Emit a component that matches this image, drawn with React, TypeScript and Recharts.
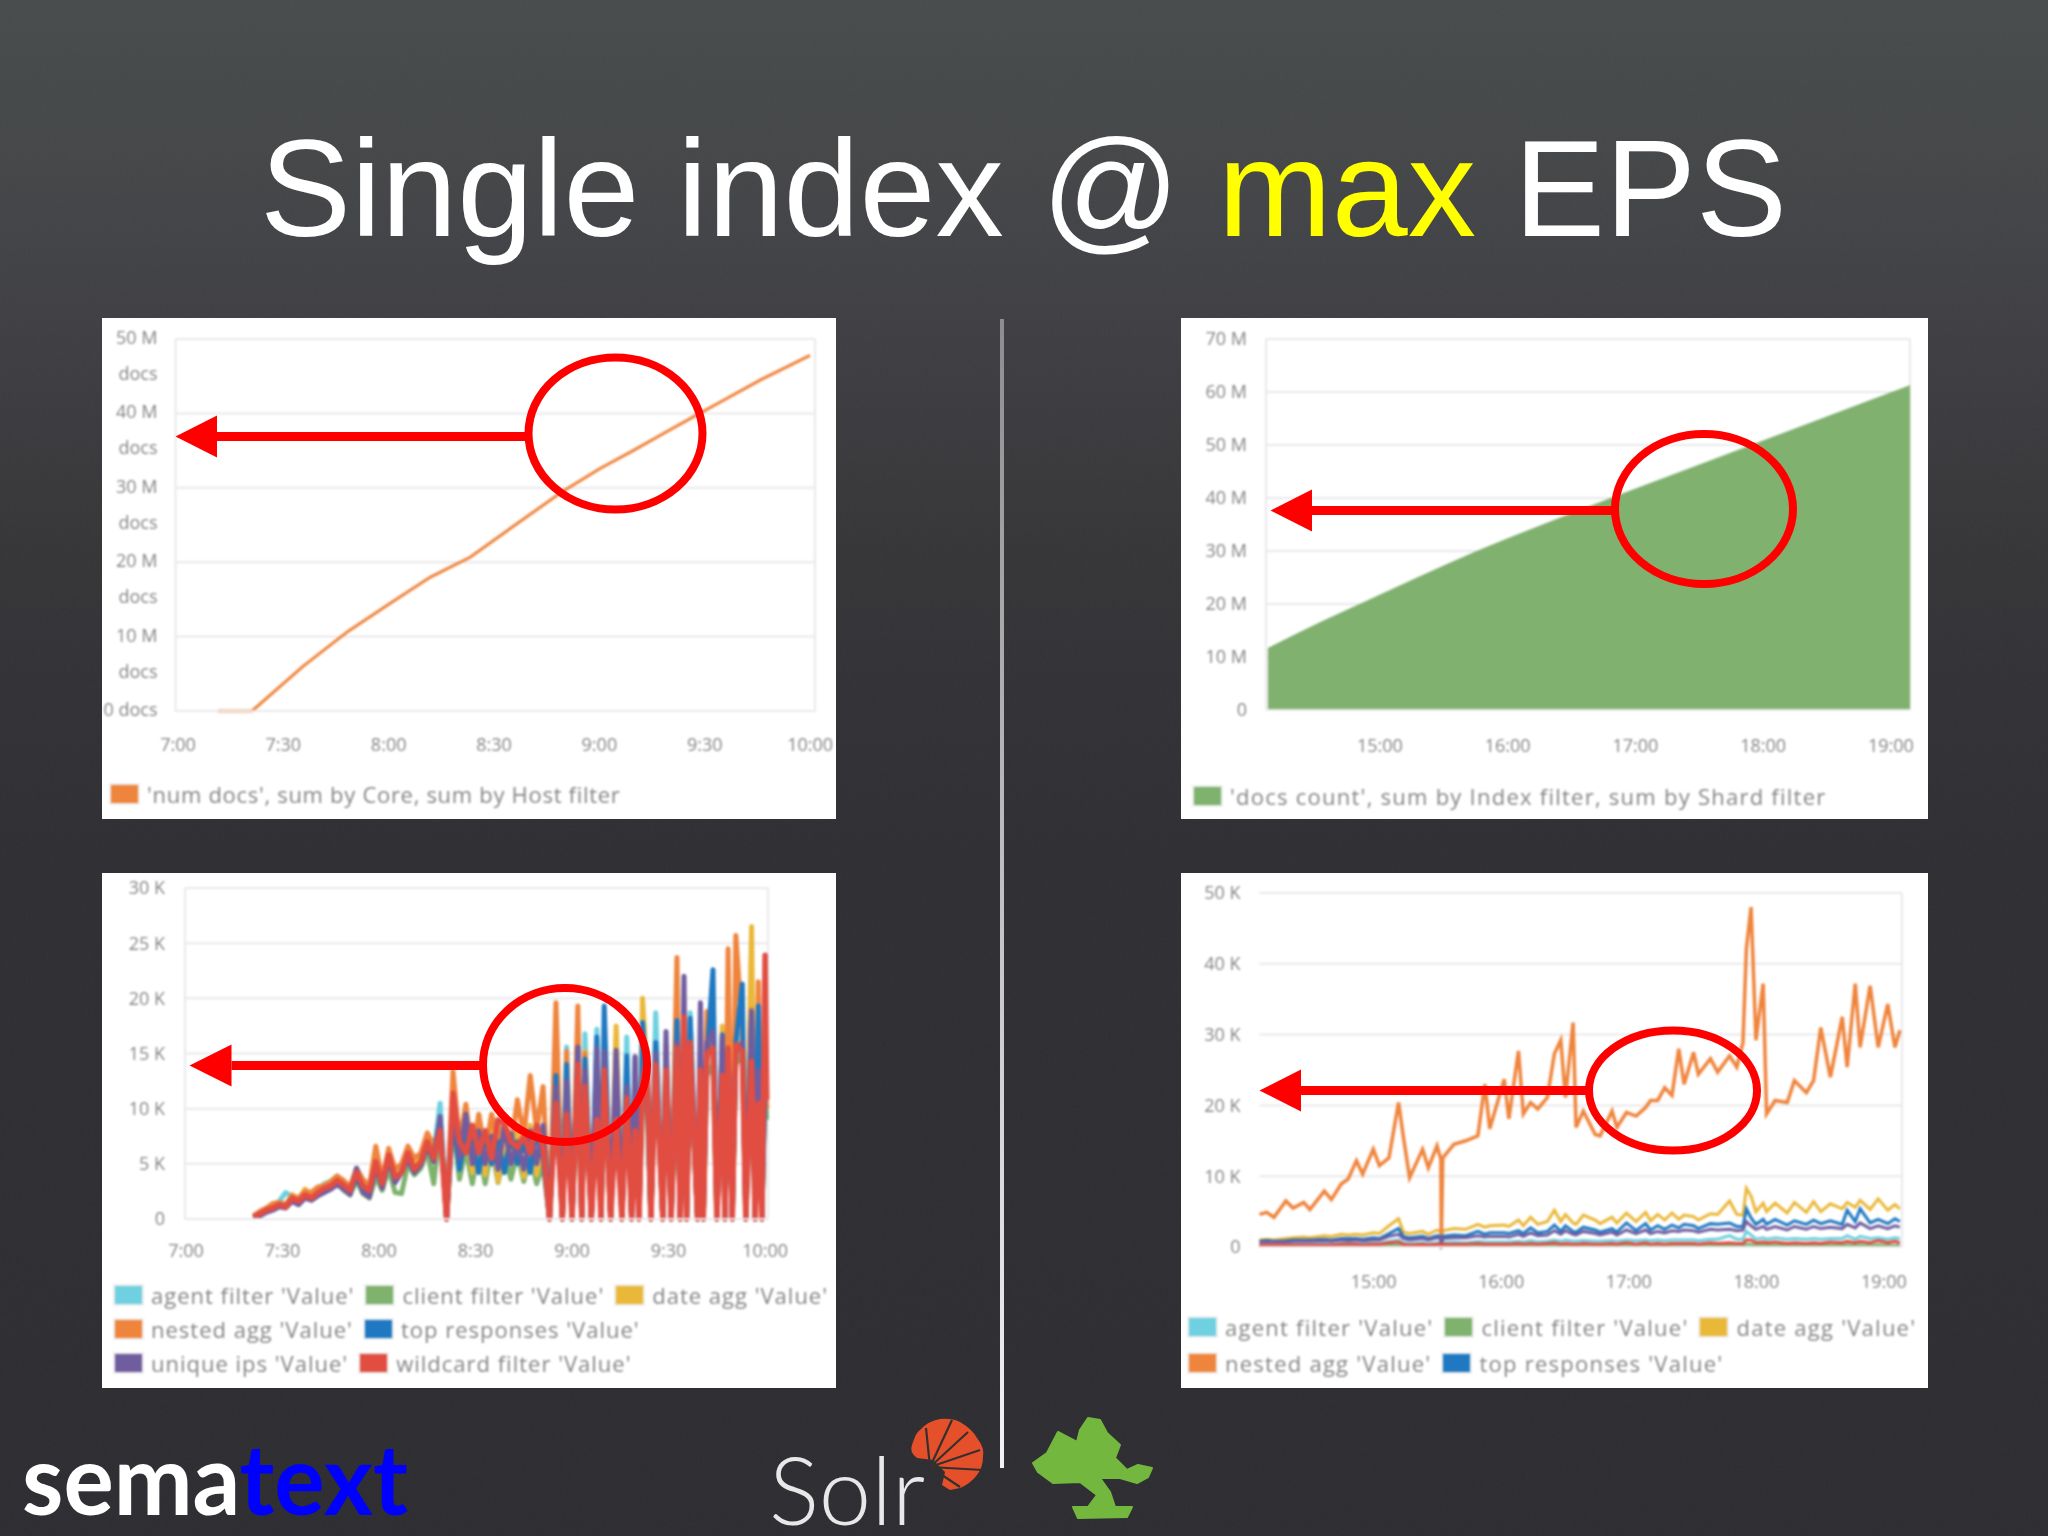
import { AreaChart, Area, LineChart, Line, XAxis, YAxis, CartesianGrid } from 'recharts'

// top left: num docs (M) against minutes since midnight
const docsTimes = [431.4, 441.1, 455.6, 468.4, 481.1, 491.9, 503.3, 516, 529.5, 540.2, 549.6, 559, 567, 575.1, 585.9, 600]
const docsValues = [0, 0, 6, 10.7, 14.7, 18, 20.7, 25, 29.5, 32.6, 35, 37.5, 39.6, 41.7, 44.5, 47.8]

// top right: docs count (M)
const countTimes = [847.4, 872, 891, 918, 946, 977, 1009, 1042, 1075, 1108, 1141, 1149]
const countValues = [11.6, 16.5, 20, 25, 30, 35, 40, 45, 50, 55, 60, 61.2]

const amTicks = [420, 450, 480, 510, 540, 570, 600]
const pmTicks = [900, 960, 1020, 1080, 1140]

// bottom left: query latency (K) per filter
const blTimes = [
  441, 443, 445, 447, 449, 451, 453, 455, 457, 459,
  461, 463, 465, 467, 469, 471, 473, 475, 477, 479,
  481, 483, 485, 487, 489, 491, 493, 495, 497, 499,
  501, 503, 505, 507, 509, 511, 513, 515, 517, 519,
  521, 523, 525, 527, 529, 531,
  533, 535, 537, 538.3, 540, 541.8, 543, 544, 546, 547.7,
  549, 550, 552, 553.7, 555.5, 557, 558.5, 559.6, 560.8, 561.9,
  563.3, 564.5, 566, 568.2, 569.2, 570.8, 572.6, 573.6, 574.8, 575.6,
  576.7, 579, 579.9, 580.8, 581.9, 583.8, 585, 586.7, 587.5, 588.5,
  589.8, 590.9, 592.9, 594, 595.8, 596.9, 597.9, 599, 600, 600.5,
]
const blAgent = [
  .2, .6, .9, 1.2, 1.6, 2.4, 2, 1.7, 2.3, 2.1,
  2.7, 3.2, 3.4, 3.9, 3, 2.7, 4, 2.9, 2.4, 4.6,
  3.3, 5.2, 3.6, 4.8, 5.9, 4.8, 5.4, 7, 6, 10.5,
  0, 9.6, 4, 7, 4.6, 7.4, 4, 7.5, 4.2, 7,
  4.4, 7, 4.2, 7.5, 4.2, 7,
  0, 12, 0, 15.6, 0, 14, 0, 16.8, 0, 17.2,
  0, 15, 0, 13, 0, 16.5, 0, 13, 0, 14,
  12, 0, 18.7, 0, 15, 0, 17, 0, 16, 0,
  18.7, 0, 15, 0, 15, 16, 0, 15, 0, 16,
  0, 16, 17, 0, 15, 0, 14, 0, 13, 10,
]
const blClient = [
  .1, .4, .7, 1, 1.3, 1.4, 1.6, 1.4, 2, 1.7,
  2.2, 2.7, 3, 3.5, 2.6, 2.2, 3.5, 2.3, 1.9, 3.8,
  2.6, 4.6, 2.4, 2.3, 5, 4, 4.6, 6.2, 3.2, 8.4,
  0, 8.8, 3.6, 6.4, 3.2, 6.5, 3.2, 6.5, 3.3, 6,
  3.6, 6, 3.4, 6, 3.2, 5,
  0, 11, 0, 11, 0, 12, 0, 12, 0, 13,
  0, 12, 0, 11, 0, 13, 0, 11, 0, 12,
  10, 0, 14, 0, 12, 0, 14, 0, 14, 0,
  14, 0, 13, 0, 13, 14, 0, 14, 0, 13,
  0, 14, 15, 0, 14, 0, 13, 0, 12, 9,
]
const blDate = [
  .2, .6, .9, 1.1, 1.5, 1.2, 2.2, 1.8, 2.7, 2.2,
  2.8, 3.1, 3.3, 3.8, 3.4, 3, 4.4, 3.3, 2.9, 5.5,
  3.4, 6, 4.2, 4.6, 6.4, 4.9, 5.7, 7.6, 5.8, 8.6,
  0, 10.4, 5, 9.5, 4.2, 8.8, 4, 9, 3.4, 7.5,
  5, 8, 3.8, 8.5, 4, 7,
  0, 14, 0, 13, 0, 15, 0, 15.2, 0, 14,
  0, 14.5, 0, 17.5, 0, 12, 0, 12, 0, 20,
  13, 0, 15, 0, 14, 0, 16, 0, 15, 0,
  16, 0, 14, 0, 16, 15, 0, 17.5, 0, 15,
  0, 16, 16, 0, 26.5, 0, 16, 0, 16, 10,
]
const blNested = [
  .3, .7, 1, 1.4, 1.5, 1.3, 2.1, 1.9, 2.5, 2.4,
  2.9, 3, 3.4, 3.9, 3.5, 2.9, 4.6, 3.6, 3, 6.6,
  3.6, 6.4, 4.5, 5, 6.6, 5.5, 6, 7.8, 6.6, 8.5,
  0, 13.4, 7, 10.4, 5.5, 9.5, 6, 9.5, 7, 9,
  6.5, 10.8, 7.5, 13, 8, 12,
  0, 19.6, 0, 15.2, 0, 19.3, 0, 15, 0, 13,
  0, 13.5, 0, 15, 0, 11, 0, 10, 0, 12,
  15, 0, 15.5, 0, 15.8, 0, 23.7, 0, 18, 0,
  15, 0, 14, 0, 18.8, 16, 0, 15, 0, 24.5,
  0, 25.7, 17, 0, 19, 0, 21.5, 0, 15, 10,
]
const blTop = [
  .1, .4, .7, .9, 1.3, 1.1, 1.7, 1.5, 2, 1.9,
  2.3, 2.6, 2.9, 3.3, 2.8, 2.4, 3.8, 2.6, 2.2, 5,
  3, 5.4, 3.5, 4.3, 5.8, 4.4, 5, 6.8, 5.7, 9,
  0, 9.5, 4.5, 7.8, 7, 4.2, 7.5, 5, 7, 4.2,
  7.7, 5, 7, 4.2, 8, 5.5,
  0, 13, 0, 14, 0, 15.5, 0, 14.5, 0, 16.5,
  0, 19.3, 0, 14.5, 0, 14.8, 0, 14.7, 0, 17.8,
  12, 0, 16, 0, 15, 0, 18, 0, 17, 0,
  18.2, 0, 15, 0, 14.5, 22.6, 0, 16.7, 0, 15,
  0, 16, 21.3, 0, 18.8, 0, 19.3, 0, 13, 11,
]
const blUnique = [
  .1, .3, .6, .8, 1.1, 1, 1.6, 1.3, 1.9, 1.7,
  2.1, 2.4, 2.7, 3.1, 2.7, 2.2, 4.6, 2.4, 2, 4.8,
  2.8, 5.6, 3.3, 4.2, 5.4, 4.2, 4.9, 6.6, 5.2, 9.3,
  0, 10.5, 5.5, 9.5, 5, 8, 5, 7.5, 4.5, 8.5,
  5, 7, 4.5, 8, 5, 8.5,
  0, 12, 0, 12.5, 0, 15.6, 0, 13.5, 0, 15.5,
  0, 15.2, 0, 15.3, 0, 12, 0, 14.7, 0, 13,
  14, 0, 15, 0, 17, 0, 16, 0, 22, 0,
  15, 0, 19.6, 0, 16, 17, 0, 16.5, 0, 15,
  0, 15, 16, 0, 18.8, 0, 13.5, 0, 14, 11.4,
]
const blWildcard = [
  .2, .5, .8, 1, 1.3, 1.1, 1.9, 1.6, 2.2, 1.9,
  2.4, 2.8, 3, 3.5, 3.1, 2.6, 4.2, 3, 2.6, 5.2,
  3.2, 5.8, 3.8, 4.2, 6, 4.5, 5.2, 7, 5.5, 8,
  0, 11.4, 7, 6, 8.5, 6, 8, 5.5, 9, 8.7,
  7, 6.5, 7.5, 6, 8.5, 6.5,
  0, 10.5, 0, 9.5, 0, 14, 0, 12, 0, 9,
  0, 13.5, 0, 9, 0, 11, 0, 8, 0, 12,
  14.5, 0, 14, 0, 13.5, 0, 15.5, 0, 18.3, 0,
  16, 0, 13.5, 0, 15, 15.5, 0, 13, 0, 15.5,
  0, 15.8, 15.2, 0, 14.3, 0, 10.5, 0, 23.9, 10.8,
]

// bottom right
const brTimes = [
  846.3, 849.7, 853.1, 858.7, 862.1, 867.1, 870, 876.8, 880.1, 884.7,
  888, 891.9, 894.8, 899.8, 902.7, 907.2, 911.7, 914, 916.9, 923,
  925.7, 929.8, 931.6, 931.8, 932.5, 937.7, 943.3, 949, 952.3, 954.6,
  961.4, 963.6, 968.1, 970.4, 973.8, 977.2, 981.7, 985, 988, 990.2,
  993.8, 995.2, 998.6, 1004.2, 1006.5, 1012.1, 1014.4, 1018.9, 1023.4, 1027.9,
  1030.2, 1033.6, 1036.9, 1040.3, 1043.5, 1046, 1050.5, 1052.7, 1058.4, 1061.8,
  1067.4, 1070.8, 1073.7, 1075.3, 1077.5, 1079.8, 1083.2, 1084.8, 1088.8, 1094.5,
  1097.9, 1103.5, 1106.9, 1110.3, 1114.8, 1120.4, 1122.7, 1126.5, 1128.8, 1133.5,
  1137.3, 1141.8, 1145.2, 1147.5,
]
const brNested = [
  4.6, 4.9, 4.2, 6.5, 5.5, 6.3, 5.3, 7.9, 6.7, 8.9,
  9.6, 12.2, 10.3, 13.8, 11.5, 12.6, 20.4, 15.5, 9.8, 13.8,
  11.2, 14.3, 12.4, .1, 12.6, 14.5, 15, 15.7, 23, 16.7,
  23.7, 18.1, 27.7, 18.8, 20.4, 19.5, 21.1, 27.3, 29.2, 21.1,
  31.7, 16.9, 19.2, 15.9, 15.7, 19.2, 16.9, 19, 18.5, 19.7,
  20.7, 20.7, 22.5, 21.4, 28, 23, 27.5, 24.4, 26.6, 24.7,
  27, 25.4, 28.9, 42.1, 48, 29.2, 37.2, 18.8, 20.7, 20.4,
  23.5, 21.8, 23.5, 31, 24, 32.5, 25.4, 37.2, 28.2, 36.9,
  28.2, 34.3, 28.2, 30.6,
]
const brDate = [
  1, 1.1, 1, 1.2, 1.3, 1.4, 1.3, 1.6, 1.5, 1.8,
  1.7, 1.8, 1.7, 2, 1.9, 3, 4, 2.1, 1.9, 2.2,
  1.8, 2.4, 2.2, .6, 2.3, 2.6, 2.5, 3.2, 2.8, 3,
  3.1, 2.9, 3.8, 3, 4.2, 3.2, 3.6, 5.2, 3.6, 4.6,
  3.4, 3.2, 4.5, 3.8, 3.3, 4.2, 3.4, 4.8, 3.6, 4.9,
  3.7, 4.6, 3.8, 4.8, 3.9, 4.5, 4.3, 3.8, 4.7, 4.6,
  6.5, 4.6, 4.5, 8.3, 7.2, 5, 6.2, 5, 6.2, 4.8,
  6.3, 4.9, 6.4, 5, 6.1, 5.4, 6.3, 5.6, 6.6, 5.3,
  6.8, 5.2, 6, 5.4,
]
const brTop = [
  .8, .9, .8, .9, 1, 1, 1, 1.1, 1, 1.2,
  1.2, 1.2, 1.1, 1.3, 1.2, 1.9, 2.6, 1.5, 1.3, 1.5,
  1.2, 1.6, 1.5, .3, 1.5, 1.7, 1.6, 2.2, 1.8, 2,
  2, 1.9, 2.3, 1.9, 2.7, 2, 2.2, 3.1, 2.2, 3,
  2.2, 2.1, 2.8, 2.4, 2.1, 2.6, 2.1, 3.4, 2.3, 3.3,
  2.4, 3, 2.5, 3.1, 2.7, 3.2, 3, 2.6, 3.3, 3.2,
  3.4, 2.9, 2.9, 5.4, 4.1, 3.2, 3.9, 3.2, 3.9, 3.1,
  3.7, 3.2, 3.8, 3.3, 3.7, 3.2, 5.2, 3.6, 5.4, 3.4,
  3.9, 3.3, 4, 3.6,
]
const brUnique = [
  .7, .7, .7, .7, .8, .8, .8, .9, .8, 1,
  .9, 1, .9, 1, 1, 1.5, 1.8, 1.2, 1, 1.2,
  1, 1.3, 1.2, .3, 1.2, 1.3, 1.3, 1.6, 1.4, 1.5,
  1.5, 1.4, 1.8, 1.5, 2, 1.6, 1.7, 2.3, 1.8, 2.3,
  1.8, 1.7, 2.2, 1.9, 1.7, 2.1, 1.7, 2.4, 1.9, 2.4,
  1.9, 2.2, 2, 2.3, 2.2, 2.4, 2.3, 2.1, 2.5, 2.4,
  2.5, 2.3, 2.4, 3.6, 3, 2.5, 2.9, 2.5, 2.9, 2.4,
  2.9, 2.5, 2.9, 2.6, 2.8, 2.6, 3.2, 2.7, 3.4, 2.6,
  3, 2.6, 3, 2.8,
]
const brAgent = [
  .3, .3, .3, .4, .4, .4, .4, .5, .4, .5,
  .5, .5, .5, .5, .5, .8, 1, .6, .5, .6,
  .5, .6, .6, .2, .6, .7, .6, .8, .7, .7,
  .7, .7, .8, .7, .9, .7, .8, 1, .8, 1,
  .8, .8, .9, .8, .8, .9, .8, 1, .9, 1,
  .9, 1, .9, 1, 1, 1, 1, .9, 1.1, 1.1,
  1.6, 1.1, 1.1, 2.2, 1.7, 1.1, 1.3, 1.1, 1.3, 1.1,
  1.2, 1.1, 1.2, 1.1, 1.2, 1.2, 1.6, 1.1, 1.5, 1.2,
  1.3, 1.1, 1.3, 1.2,
]
const brClient = [
  .1, .1, .1, .1, .1, .1, .1, .1, .1, .1,
  .1, .1, .1, .1, .1, .2, .2, .1, .1, .1,
  .1, .1, .1, 0, .1, .1, .1, .2, .1, .2,
  .2, .1, .2, .1, .2, .1, .2, .2, .1, .2,
  .2, .1, .2, .2, .1, .2, .1, .2, .1, .2,
  .2, .2, .1, .2, .2, .2, .2, .1, .2, .2,
  .2, .2, .2, .4, .4, .2, .3, .2, .2, .2,
  .2, .2, .2, .2, .2, .2, .3, .2, .3, .2,
  .3, .2, .2, .2,
]
const brWildcard = [
  .3, .3, .3, .3, .3, .3, .3, .3, .3, .4,
  .4, .4, .3, .4, .4, .6, .7, .4, .3, .4,
  .3, .4, .4, .1, .4, .4, .4, .5, .4, .4,
  .4, .4, .5, .4, .5, .4, .5, .6, .4, .5,
  .4, .4, .5, .4, .4, .5, .4, .6, .4, .6,
  .4, .5, .4, .5, .5, .5, .5, .4, .6, .5,
  .6, .5, .5, 1, 1, .6, .7, .6, .7, .5,
  .6, .5, .6, .5, .7, .6, .8, .6, .8, .6,
  .9, .6, .8, .6,
]

const docsData = docsTimes.map((t, i) => ({ t, v: docsValues[i] }))
const countData = countTimes.map((t, i) => ({ t, v: countValues[i] }))
const blData = blTimes.map((t, i) => ({
  t, agent: blAgent[i], client: blClient[i], date: blDate[i], nested: blNested[i],
  top: blTop[i], unique: blUnique[i], wildcard: blWildcard[i],
}))
const brData = brTimes.map((t, i) => ({
  t, agent: brAgent[i], client: brClient[i], date: brDate[i], nested: brNested[i],
  top: brTop[i], unique: brUnique[i], wildcard: brWildcard[i],
}))

const CYAN = '#6ed0e0'
const GREEN = '#7eb26d'
const YELLOW = '#eab839'
const ORANGE = '#ef843c'
const BLUE = '#1f78c1'
const PURPLE = '#705da0'
const RED = '#e24d42'

const seriesKeys = ['agent', 'client', 'date', 'nested', 'top', 'unique', 'wildcard']
const seriesColors = [CYAN, GREEN, YELLOW, ORANGE, BLUE, PURPLE, RED]

const FONT = '"Open Sans", sans-serif'
const TICK = { fill: '#858585', fontSize: 18, fontFamily: FONT }
const GRID = '#e9e9ec'

const clock = (m: number) => `${Math.floor(m / 60)}:${String(m % 60).padStart(2, '0')}`

// the "docs" axis wraps its labels on two lines
function DocsTick({ x, y, payload }: any) {
  const v = payload.value
  return (
    <text x={x} y={y} textAnchor="end" fill={TICK.fill} fontSize={18} fontFamily={FONT} dy={5}>
      {v === 0 ? '0 docs' : `${v} M`}
      {v !== 0 && <tspan x={x} dy={36}>docs</tspan>}
    </text>
  )
}

function Legend({ rows, style }: { rows: [string, string][][]; style: any }) {
  return (
    <div style={{ position: 'absolute', fontFamily: FONT, fontSize: 22, letterSpacing: 0.7, color: '#858585', whiteSpace: 'nowrap', ...style }}>
      {rows.map((row, r) => (
        <div key={r} style={{ display: 'flex', alignItems: 'center', height: style.rowHeight }}>
          {row.map(([name, color]) => (
            <span key={name} style={{ display: 'flex', alignItems: 'center', marginRight: 12 }}>
              <span style={{ width: 27, height: 18, background: color, marginRight: 9, boxShadow: '0 0 0 2px #eee' }} />
              {name}
            </span>
          ))}
        </div>
      ))}
    </div>
  )
}

function Panel({ x, y, w, h, children }: any) {
  return (
    <div style={{ position: 'absolute', left: x, top: y, width: w, height: h, background: '#fff', overflow: 'hidden' }}>
      <div style={{ position: 'absolute', inset: 0, filter: 'blur(1.1px)' }}>{children}</div>
    </div>
  )
}

const legendBL: [string, string][][] = [
  [["agent filter 'Value'", CYAN], ["client filter 'Value'", GREEN], ["date agg 'Value'", YELLOW]],
  [["nested agg 'Value'", ORANGE], ["top responses 'Value'", BLUE]],
  [["unique ips 'Value'", PURPLE], ["wildcard filter 'Value'", RED]],
]
const legendBR: [string, string][][] = [
  [["agent filter 'Value'", CYAN], ["client filter 'Value'", GREEN], ["date agg 'Value'", YELLOW]],
  [["nested agg 'Value'", ORANGE], ["top responses 'Value'", BLUE]],
]

function Callout({ cx, cy, rx, ry, ay, tip, base, end }: any) {
  return (
    <g>
      <rect x={base} y={ay - 4.5} width={end - base} height={9} fill="#fe0000" />
      <polygon points={`${tip},${ay} ${base},${ay - 21} ${base},${ay + 21}`} fill="#fe0000" />
      <ellipse cx={cx} cy={cy} rx={rx} ry={ry} fill="none" stroke="#fe0000" strokeWidth={8} />
    </g>
  )
}

export default function App() {
  return (
    <div
      style={{
        position: 'absolute', left: 0, top: 0, width: 2048, height: 1536, overflow: 'hidden',
        background: 'linear-gradient(180deg, #484c4c 0%, #454749 10%, #404044 21%, #363639 36%, #2f2f34 55%, #2d2d32 100%)',
      }}
    >
      {/* slide texture */}
      <svg width={2048} height={1536} style={{ position: 'absolute', left: 0, top: 0 }}>
        <filter id="grain">
          <feTurbulence type="fractalNoise" baseFrequency="0.35" numOctaves={2} seed={4} />
          <feColorMatrix type="matrix" values="0 0 0 0 0.5  0 0 0 0 0.5  0 0 0 0 0.5  0.5 0 0 0 0" />
        </filter>
        <rect width={2048} height={1536} filter="url(#grain)" opacity={0.05} />
      </svg>

      <Panel x={102} y={318} w={734} h={501}>
        <LineChart width={734} height={501} data={docsData} margin={{ top: 21, right: 21, bottom: 0, left: 0 }}>
          <CartesianGrid stroke={GRID} strokeWidth={2} verticalValues={[419.3, 601.4]} />
          <XAxis dataKey="t" type="number" domain={[419.3, 601.4]} ticks={amTicks} tickFormatter={clock}
            height={108} tick={TICK} tickSize={0} tickMargin={27} axisLine={{ stroke: GRID, strokeWidth: 2 }} />
          <YAxis type="number" domain={[0, 50]} ticks={[0, 10, 20, 30, 40, 50]} width={73.5} tick={<DocsTick />}
            tickSize={0} tickMargin={18} axisLine={false} />
          <Line dataKey="v" stroke={ORANGE} strokeWidth={3} dot={false} isAnimationActive={false} />
        </LineChart>
        <Legend rows={[[["'num docs', sum by Core, sum by Host filter", ORANGE]]]} style={{ left: 9, top: 459, rowHeight: 34 }} />
      </Panel>

      <Panel x={1181} y={318} w={747} h={501}>
        <AreaChart width={747} height={501} data={countData} margin={{ top: 21, right: 18, bottom: 0, left: 0 }}>
          <CartesianGrid stroke={GRID} strokeWidth={2} verticalValues={[846.5, 1149]} />
          <XAxis dataKey="t" type="number" domain={[846.5, 1149]} ticks={pmTicks} tickFormatter={clock}
            height={109} tick={TICK} tickSize={0} tickMargin={29} axisLine={{ stroke: GRID, strokeWidth: 2 }} />
          <YAxis type="number" domain={[0, 70]} ticks={[0, 10, 20, 30, 40, 50, 60, 70]}
            tickFormatter={(v: number) => (v === 0 ? '0' : `${v} M`)} width={85} tick={TICK} tickSize={0} tickMargin={19} axisLine={false} />
          <Area type="monotone" dataKey="v" stroke={GREEN} strokeWidth={1} fill="#80b16f" fillOpacity={1} isAnimationActive={false} />
        </AreaChart>
        <Legend rows={[[["'docs count', sum by Index filter, sum by Shard filter", GREEN]]]} style={{ left: 13, top: 461, rowHeight: 34, letterSpacing: 1.25 }} />
      </Panel>

      <Panel x={102} y={873} w={734} h={515}>
        <LineChart width={734} height={515} data={blData} margin={{ top: 15, right: 68, bottom: 0, left: 0 }}>
          <CartesianGrid stroke={GRID} strokeWidth={2} verticalValues={[419.7, 600.9]} />
          <XAxis dataKey="t" type="number" domain={[419.7, 600.9]} ticks={amTicks} tickFormatter={clock}
            height={169} tick={TICK} tickSize={0} tickMargin={25} axisLine={{ stroke: GRID, strokeWidth: 2 }} />
          <YAxis type="number" domain={[0, 30]} ticks={[0, 5, 10, 15, 20, 25, 30]}
            tickFormatter={(v: number) => (v === 0 ? '0' : `${v} K`)} width={83} tick={TICK} tickSize={0} tickMargin={20} axisLine={false} />
          {seriesKeys.map((k, i) => (
            <Line key={k} dataKey={k} stroke={seriesColors[i]} strokeWidth={k === 'wildcard' ? 5.5 : 5} strokeLinejoin="round" dot={false} isAnimationActive={false} />
          ))}
        </LineChart>
        <Legend rows={legendBL} style={{ left: 13, top: 405, rowHeight: 34, letterSpacing: 1.0 }} />
      </Panel>

      <Panel x={1181} y={873} w={747} h={515}>
        <LineChart width={747} height={515} data={brData} margin={{ top: 20, right: 26, bottom: 0, left: 0 }}>
          <CartesianGrid stroke={GRID} strokeWidth={2} verticalValues={[846.3, 1148.5]} />
          <XAxis dataKey="t" type="number" domain={[846.3, 1148.5]} ticks={pmTicks} tickFormatter={clock}
            height={141} tick={TICK} tickSize={0} tickMargin={28} axisLine={{ stroke: GRID, strokeWidth: 2 }} />
          <YAxis type="number" domain={[0, 50]} ticks={[0, 10, 20, 30, 40, 50]}
            tickFormatter={(v: number) => (v === 0 ? '0' : `${v} K`)} width={78.5} tick={TICK} tickSize={0} tickMargin={19} axisLine={false} />
          {seriesKeys.map((k, i) => (
            <Line key={k} dataKey={k} stroke={seriesColors[i]} strokeWidth={k === 'nested' ? 3.5 : 3} dot={false} isAnimationActive={false} />
          ))}
        </LineChart>
        <Legend rows={legendBR} style={{ left: 8, top: 436, rowHeight: 36, letterSpacing: 1.25 }} />
      </Panel>

      <svg width={2048} height={1536} style={{ position: 'absolute', left: 0, top: 0 }}>
        <defs>
          <linearGradient id="divider" x1="0" y1="0" x2="0" y2="1">
            <stop offset="0%" stopColor="#8d8d8f" />
            <stop offset="100%" stopColor="#f4f4f4" />
          </linearGradient>
        </defs>
        <rect x={1000} y={319} width={4} height={1149} fill="url(#divider)" />

        <text x={260} y={236} fontFamily='"Liberation Sans", sans-serif' fontSize={136.5} fill="#fff">
          Single index @ <tspan fill="#ffff00">max</tspan> EPS
        </text>

        <g style={{ filter: 'blur(0.4px)' }}>
          <Callout cx={615.5} cy={433.5} rx={87} ry={76} ay={436.5} tip={175.5} base={217} end={528} />
          <Callout cx={1704} cy={509} rx={89} ry={75} ay={510.5} tip={1270.5} base={1312} end={1614} />
          <Callout cx={565} cy={1065} rx={82} ry={77} ay={1065.5} tip={189.5} base={231.5} end={482} />
          <Callout cx={1673} cy={1090.5} rx={84} ry={60} ay={1090.5} tip={1259.5} base={1301} end={1589} />
        </g>

        {/* logos */}
        <path d="M912 1445 Q916 1432 920 1430 Q928 1421 940 1419 Q952 1418 960 1422 Q972 1429 977 1438 Q985 1448 983 1457 Q983 1467 977 1475 Q970 1484 960 1488 L950 1490 L942 1485 L945 1472 L933 1460 L917 1458 Q909 1452 912 1445 Z" fill="#e5502a" />
        <path d="M930 1467 L926 1428 M930 1467 L952 1420 M930 1467 L968 1432 M930 1467 L980 1450 M930 1467 L983 1470 M930 1467 L960 1487" stroke="#33302f" strokeWidth={2.2} fill="none" />
        <path d="M1088 1418 L1100 1420 L1107 1433 L1120 1445 L1115 1458 L1127 1470 L1138 1465 L1152 1468 L1148 1477 L1137 1483 L1120 1478 L1100 1478 L1110 1492 L1115 1507 L1132 1507 L1127 1517 L1078 1518 L1073 1507 L1088 1507 L1097 1495 L1080 1482 L1053 1483 L1038 1472 L1033 1463 L1047 1453 L1058 1432 L1077 1442 L1080 1430 Z" fill="#74b73f" stroke="#74b73f" strokeWidth={2} strokeLinejoin="round" />
        <text x={22} y={1515} fontFamily="Lato, sans-serif" fontWeight={700} fontSize={98} textLength={386} lengthAdjust="spacingAndGlyphs" fill="#fff">
          sema<tspan fill="#0000ff">text</tspan>
        </text>
        <text x={769} y={1525} fontFamily="Lato, sans-serif" fontWeight={300} fontSize={94} fill="#e8e8e8">
          Solr
        </text>
      </svg>
    </div>
  )
}
